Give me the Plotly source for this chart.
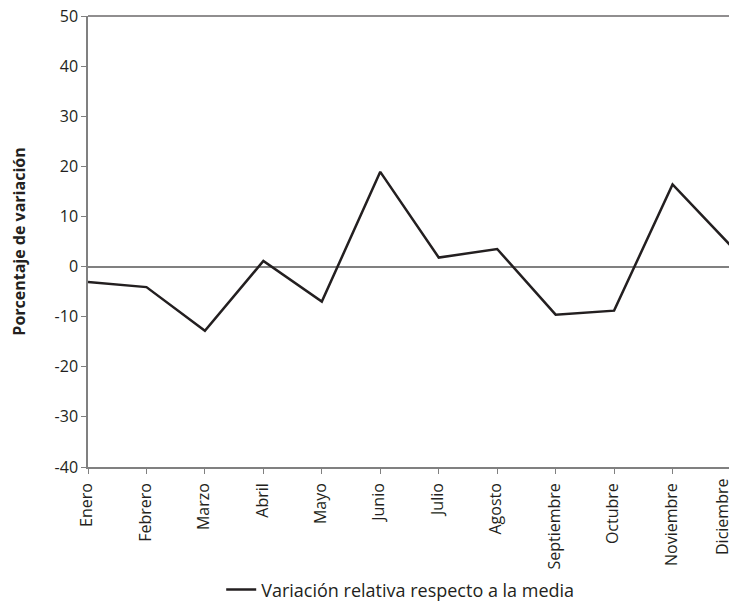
import plotly.graph_objects as go

meses = ["Enero", "Febrero", "Marzo", "Abril", "Mayo", "Junio", "Julio",
         "Agosto", "Septiembre", "Octubre", "Noviembre", "Diciembre"]
variacion = [-3.1, -4.1, -12.8, 1.1, -7.0, 18.9, 1.8, 3.5, -9.6, -8.8, 16.4, 4.1]
y_ticks = [-40, -30, -20, -10, 0, 10, 20, 30, 40, 50]

FONT = "Open Sans"
FS = 16

fig = go.Figure()
fig.add_trace(go.Scatter(
    x=list(range(len(meses))), y=variacion, mode="lines",
    line=dict(color="#231f20", width=2.5),
    name="Variación relativa respecto a la media",
))

# last label drawn as annotation so it can be nudged inside the page edge
tick_labels = meses[:-1] + [""]

fig.update_layout(
    width=729, height=595,
    margin=dict(l=80, r=6, t=8, b=136),
    paper_bgcolor="white", plot_bgcolor="white",
    font=dict(family=FONT, size=FS, color="#231f20"),
    showlegend=True,
    legend=dict(orientation="h", xref="container", yref="container",
                x=0.538, xanchor="center", y=0.022, yanchor="middle",
                font=dict(size=18), itemwidth=30, tracegroupgap=0),
    xaxis=dict(
        range=[0, 11], tickmode="array", tickvals=list(range(len(meses))),
        ticktext=tick_labels, tickangle=-90, ticks="outside", ticklen=5,
        tickcolor="#808080", showgrid=False, zeroline=False,
        showline=True, linecolor="#808080", linewidth=1.5, mirror=False,
        tickfont=dict(size=FS), automargin=False, ticklabeloverflow="allow",
        ticklabelshift=-1, ticklabelstandoff=3,
    ),
    yaxis=dict(
        range=[-40, 50], tickmode="array", tickvals=y_ticks,
        ticktext=[str(v) for v in y_ticks],
        ticks="outside", ticklen=5, tickcolor="#808080",
        showgrid=False, zeroline=True, zerolinecolor="#808080", zerolinewidth=1.5,
        showline=True, linecolor="#808080", linewidth=1.5,
        title=dict(text="<b>Porcentaje de variación</b>", font=dict(size=16), standoff=34),
        tickfont=dict(size=16), automargin=False, ticklabeloverflow="allow",
    ),
)
fig.add_annotation(x=len(meses) - 1, xref="x", y=0, yref="paper",
                   text=meses[-1], textangle=-90, showarrow=False,
                   xanchor="right", yanchor="top", yshift=-10, xshift=4,
                   font=dict(size=FS, family=FONT, color="#231f20"))
# top and right frame lines
fig.add_shape(type="line", xref="paper", yref="paper", x0=0, x1=1, y0=1, y1=1,
              line=dict(color="#231f20", width=1.2))
fig.add_shape(type="line", xref="paper", yref="paper", x0=1, x1=1, y0=0, y1=1,
              line=dict(color="#808080", width=1.5))

fig.write_html("out.html")
